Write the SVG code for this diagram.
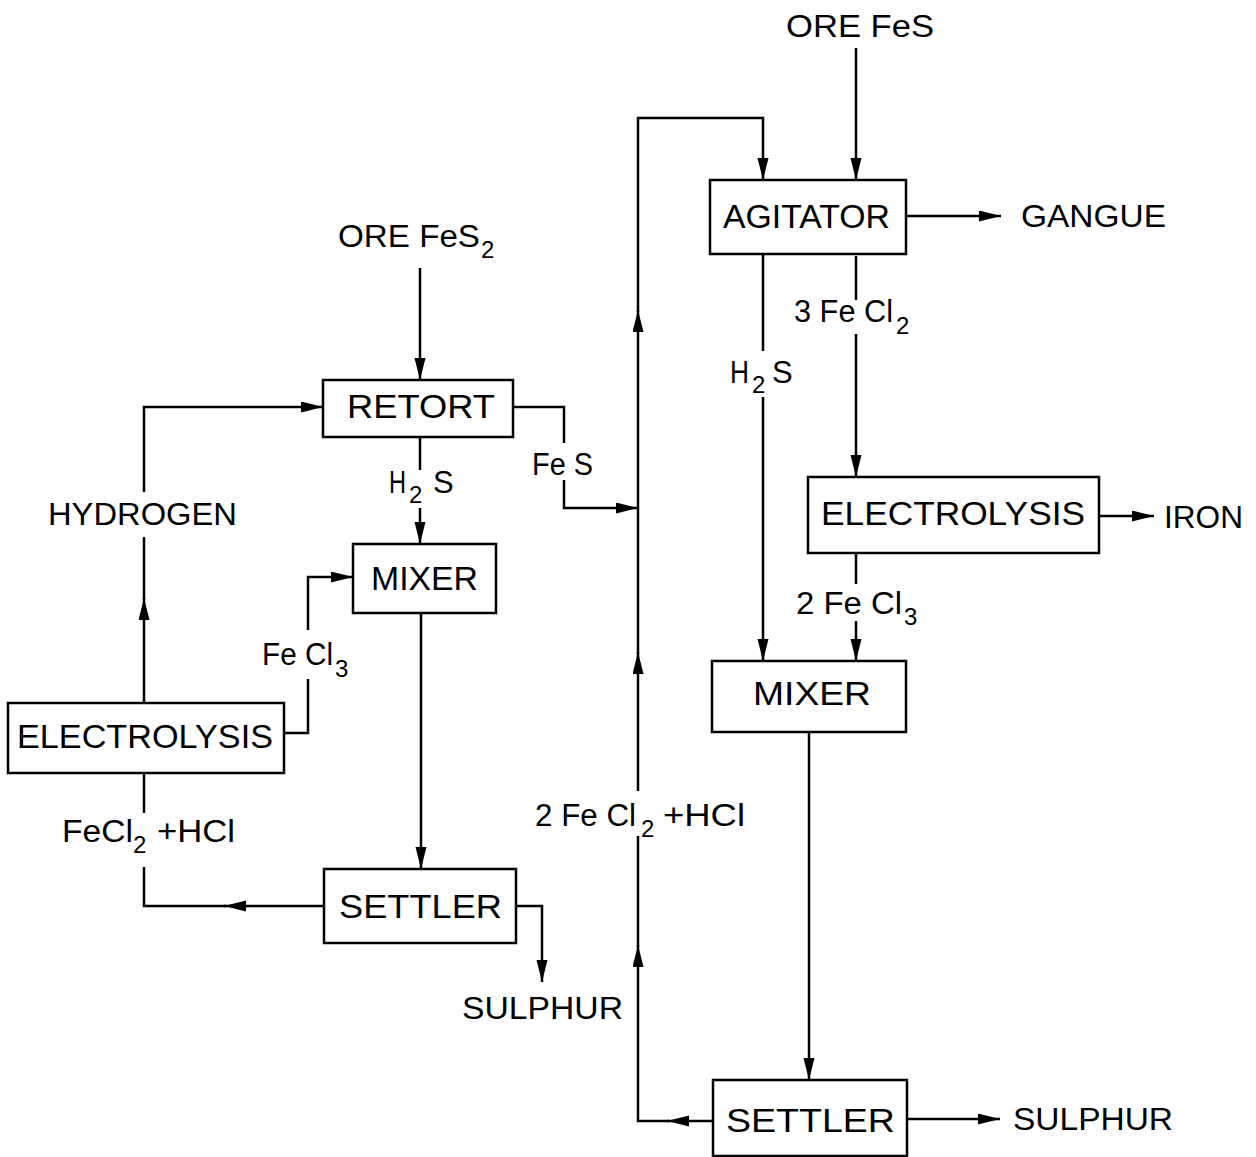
<svg xmlns="http://www.w3.org/2000/svg" width="1256" height="1157" viewBox="0 0 1256 1157">
<style>
.box{fill:#fff;stroke:#000;stroke-width:2.5}
.ln{fill:none;stroke:#000;stroke-width:2.5;stroke-linejoin:miter}
.bl{font-family:"Liberation Sans",Arial,sans-serif;font-size:33px;fill:#000}
.lb{font-family:"Liberation Sans",Arial,sans-serif;font-size:31px;fill:#000}
.sb{font-family:"Liberation Sans",Arial,sans-serif;font-size:24px;fill:#000}
</style>
<defs>
<marker id="ah" markerUnits="userSpaceOnUse" markerWidth="24" markerHeight="12" refX="22" refY="5.5" orient="auto">
<path d="M0,0 L22,5.5 L0,11 Z" fill="#000"/>
</marker>
</defs>
<rect width="1256" height="1157" fill="#fff"/>

<g id="connectors">
<!-- left section -->
<path class="ln" d="M420,268 V380" marker-end="url(#ah)"/>
<path class="ln" d="M420,437 V470"/>
<path class="ln" d="M420,508 V544" marker-end="url(#ah)"/>
<path class="ln" d="M144,703 V598" marker-end="url(#ah)"/>
<path class="ln" d="M144,600 V537"/>
<path class="ln" d="M144,492 V407 H323" marker-end="url(#ah)"/>
<path class="ln" d="M284,733 H308 V679"/>
<path class="ln" d="M308,630 V577 H353" marker-end="url(#ah)"/>
<path class="ln" d="M421,613 V869" marker-end="url(#ah)"/>
<path class="ln" d="M324,906 H224" marker-end="url(#ah)"/>
<path class="ln" d="M226,906 H144 V867"/>
<path class="ln" d="M144,813 V773"/>
<path class="ln" d="M516,906 H542 V982" marker-end="url(#ah)"/>
<path class="ln" d="M513,407 H564 V443"/>
<path class="ln" d="M564,480 V508 H638" marker-end="url(#ah)"/>
<!-- recycle line -->
<path class="ln" d="M713,1121 H667" marker-end="url(#ah)"/>
<path class="ln" d="M669,1121 H638 V945" marker-end="url(#ah)"/>
<path class="ln" d="M638,947 V836"/>
<path class="ln" d="M638,791 V652" marker-end="url(#ah)"/>
<path class="ln" d="M638,654 V310" marker-end="url(#ah)"/>
<path class="ln" d="M638,312 V118 H763 V180" marker-end="url(#ah)"/>
<!-- right section -->
<path class="ln" d="M856,48 V180" marker-end="url(#ah)"/>
<path class="ln" d="M906,216 H1001" marker-end="url(#ah)"/>
<path class="ln" d="M763,254 V351"/>
<path class="ln" d="M763,397 V661" marker-end="url(#ah)"/>
<path class="ln" d="M856,256 V300"/>
<path class="ln" d="M856,334 V477" marker-end="url(#ah)"/>
<path class="ln" d="M1099,516 H1154" marker-end="url(#ah)"/>
<path class="ln" d="M856,553 V584"/>
<path class="ln" d="M856,621 V661" marker-end="url(#ah)"/>
<path class="ln" d="M809,732 V1080" marker-end="url(#ah)"/>
<path class="ln" d="M907,1119 H1000" marker-end="url(#ah)"/>
</g>

<g id="retort"><rect class="box" x="323" y="380" width="190" height="57"/><text class="bl" x="347" y="418" textLength="148" lengthAdjust="spacingAndGlyphs">RETORT</text></g>
<g id="mixer-left"><rect class="box" x="353" y="544" width="143" height="69"/><text class="bl" x="371" y="590" textLength="107" lengthAdjust="spacingAndGlyphs">MIXER</text></g>
<g id="electrolysis-left"><rect class="box" x="8" y="703" width="276" height="70"/><text class="bl" x="17" y="748" textLength="256" lengthAdjust="spacingAndGlyphs">ELECTROLYSIS</text></g>
<g id="settler-left"><rect class="box" x="324" y="869" width="192" height="74"/><text class="bl" x="339" y="918" textLength="163" lengthAdjust="spacingAndGlyphs">SETTLER</text></g>
<g id="agitator"><rect class="box" x="710" y="180" width="196" height="74"/><text class="bl" x="723" y="228" textLength="167" lengthAdjust="spacingAndGlyphs">AGITATOR</text></g>
<g id="electrolysis-right"><rect class="box" x="808" y="477" width="291" height="76"/><text class="bl" x="821" y="525" textLength="264" lengthAdjust="spacingAndGlyphs">ELECTROLYSIS</text></g>
<g id="mixer-right"><rect class="box" x="712" y="661" width="194" height="71"/><text class="bl" x="753" y="705" textLength="118" lengthAdjust="spacingAndGlyphs">MIXER</text></g>
<g id="settler-bottom"><rect class="box" x="713" y="1080" width="194" height="76"/><text class="bl" x="726" y="1132" textLength="169" lengthAdjust="spacingAndGlyphs">SETTLER</text></g>

<g id="labels">
<g id="ore-fes2"><text class="lb" x="338" y="247" textLength="142" lengthAdjust="spacingAndGlyphs">ORE FeS</text><text class="sb" x="481" y="258">2</text></g>
<g id="ore-fes"><text class="lb" x="786" y="37" textLength="148" lengthAdjust="spacingAndGlyphs">ORE FeS</text></g>
<g id="h2s-left"><text class="lb" x="389" y="493" textLength="17" lengthAdjust="spacingAndGlyphs">H</text><text class="sb" x="409" y="503">2</text><text class="lb" x="433" y="493">S</text></g>
<g id="fes"><text class="lb" x="532" y="475" textLength="61" lengthAdjust="spacingAndGlyphs">Fe S</text></g>
<g id="hydrogen"><text class="lb" x="48" y="525" textLength="189" lengthAdjust="spacingAndGlyphs">HYDROGEN</text></g>
<g id="fecl3-left"><text class="lb" x="262" y="665" textLength="71" lengthAdjust="spacingAndGlyphs">Fe Cl</text><text class="sb" x="335" y="677">3</text></g>
<g id="fecl2-hcl"><text class="lb" x="62" y="842" textLength="71" lengthAdjust="spacingAndGlyphs">FeCl</text><text class="sb" x="133" y="853">2</text><text class="lb" x="157" y="842" textLength="78" lengthAdjust="spacingAndGlyphs">+HCl</text></g>
<g id="sulphur-left"><text class="lb" x="462" y="1019" textLength="161" lengthAdjust="spacingAndGlyphs">SULPHUR</text></g>
<g id="fecl2-hcl-2"><text class="lb" x="535" y="826" textLength="101" lengthAdjust="spacingAndGlyphs">2 Fe Cl</text><text class="sb" x="641" y="837">2</text><text class="lb" x="663" y="826" textLength="82" lengthAdjust="spacingAndGlyphs">+HCl</text></g>
<g id="h2s-right"><text class="lb" x="730" y="383" textLength="19" lengthAdjust="spacingAndGlyphs">H</text><text class="sb" x="752" y="393">2</text><text class="lb" x="772" y="383">S</text></g>
<g id="fecl2-3"><text class="lb" x="794" y="322" textLength="99" lengthAdjust="spacingAndGlyphs">3 Fe Cl</text><text class="sb" x="896" y="334">2</text></g>
<g id="fecl3-2"><text class="lb" x="796" y="614" textLength="106" lengthAdjust="spacingAndGlyphs">2 Fe Cl</text><text class="sb" x="904" y="625">3</text></g>
<g id="gangue"><text class="lb" x="1021" y="227" textLength="145" lengthAdjust="spacingAndGlyphs">GANGUE</text></g>
<g id="iron"><text class="lb" x="1164" y="528" textLength="79" lengthAdjust="spacingAndGlyphs">IRON</text></g>
<g id="sulphur-right"><text class="lb" x="1013" y="1130" textLength="160" lengthAdjust="spacingAndGlyphs">SULPHUR</text></g>
</g>
</svg>
